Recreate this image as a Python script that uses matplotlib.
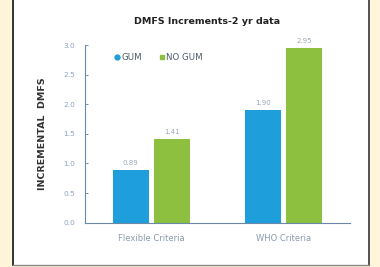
import matplotlib
matplotlib.use("Agg")
import matplotlib.pyplot as plt
from matplotlib.patches import Rectangle
from matplotlib.lines import Line2D
import numpy as np

categories = ["Flexible Criteria", "WHO Criteria"]
series_names = ["GUM", "NO GUM"]
gum = [0.89, 1.90]
no_gum = [1.41, 2.95]
yticks = [0.0, 0.5, 1.0, 1.5, 2.0, 2.5, 3.0]
colors = ["#1E9FDB", "#8DC03F"]

W, H = 380, 267
fig = plt.figure(figsize=(W/100, H/100), dpi=100)
fig.patch.set_facecolor("#FFF5DA")

# background panel axes
bg = fig.add_axes([0, 0, 1, 1], zorder=-5)
bg.set_xlim(0, W)
bg.set_ylim(H, 0)
bg.axis("off")
bg.add_patch(Rectangle((12, -1), 369 - 12, 266, facecolor="white", edgecolor="none"))
bg.plot([12.5, 12.5], [-1, 265], color="#222222", lw=1.3)
bg.plot([369, 369], [-1, 265], color="#444444", lw=1.3)
bg.plot([12.5, 369], [264.5, 264.5], color="#888888", lw=1.0)

ax = fig.add_axes([85/W, (H-222.7)/H, (350-85)/W, (222.7-45)/H], zorder=2)
ax.set_facecolor("none")
x = np.arange(len(categories))
w = 0.27
off = 0.155
b1 = ax.bar(x - off, gum, w, color=colors[0], label=series_names[0], zorder=2)
b2 = ax.bar(x + off, no_gum, w, color=colors[1], label=series_names[1], zorder=2)
for bars, vals in ((b1, gum), (b2, no_gum)):
    for r, v in zip(bars, vals):
        ax.text(r.get_x() + r.get_width()/2, v + 0.07, f"{v:.2f}", ha="center", va="bottom",
                fontsize=5, color="#9AA8B8")

ax.set_xlim(-0.5, 1.5)
ax.set_ylim(0, 3.0)
ax.set_yticks(yticks)
ax.set_yticklabels([f"{t:.1f}" for t in yticks], fontsize=5.3, color="#8FA3C6")
ax.set_xticks(x)
ax.set_xticklabels(categories, fontsize=6, color="#8A9AB0")
ax.tick_params(axis="y", direction="in", length=2.5, width=0.6, color="#5E7E9E", pad=7)
ax.tick_params(axis="x", length=0, pad=8)
for s in ("top", "right"):
    ax.spines[s].set_visible(False)
for s in ("left", "bottom"):
    ax.spines[s].set_color("#6A88A8")
    ax.spines[s].set_linewidth(0.8)

ax.set_ylabel("INCREMENTAL  DMFS", fontsize=6.8, fontweight="bold", color="#333333", labelpad=12)
fig.text(207/W, 1 - 22/H, "DMFS Increments-2 yr data", ha="center", va="center",
         fontsize=6.8, fontweight="bold", color="#222222")

handles = [Line2D([], [], marker="o", ls="none", color=colors[0], markersize=3.5),
           Line2D([], [], marker="s", ls="none", color=colors[1], markersize=3.5)]
leg = ax.legend(handles, series_names, loc="upper left", bbox_to_anchor=(0.085, 1.0), ncol=2,
                frameon=False, fontsize=6.2, handlelength=0.5, handletextpad=0.25,
                columnspacing=2.0, labelcolor="#4A5A6A")

fig.savefig("out.png", dpi=100, facecolor=fig.get_facecolor())
